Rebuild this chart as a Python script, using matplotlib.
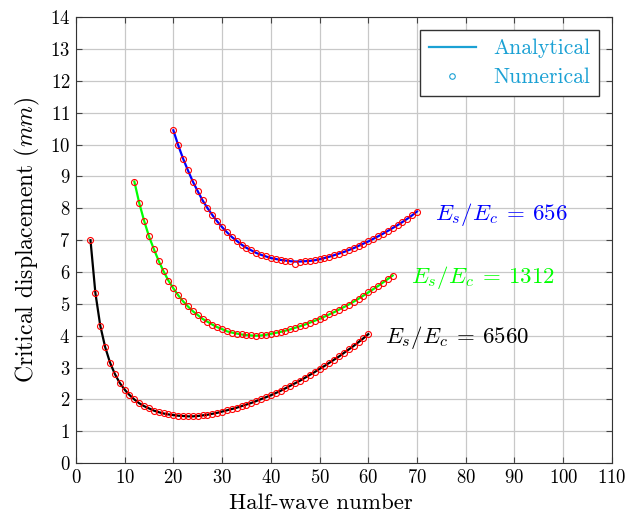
import matplotlib
matplotlib.use("Agg")
import matplotlib.pyplot as plt
from matplotlib.lines import Line2D

plt.rcParams['font.family'] = 'serif'
plt.rcParams['font.serif'] = ['cmr10', 'DejaVu Serif']
plt.rcParams['mathtext.fontset'] = 'cm'
plt.rcParams['axes.unicode_minus'] = False
plt.rcParams['axes.formatter.use_mathtext'] = True

### data ###
# E_s/E_c = 6560 (black), half-wave numbers 3..60
n_6560 = list(range(3, 61))
d_6560 = [7.00, 5.35, 4.32, 3.65, 3.16, 2.80, 2.52, 2.31, 2.14, 2.00,
          1.88, 1.79, 1.72, 1.65, 1.60, 1.56, 1.53, 1.51, 1.49, 1.48,
          1.47, 1.47, 1.48, 1.50, 1.52, 1.55, 1.58, 1.62, 1.66, 1.70,
          1.74, 1.79, 1.84, 1.89, 1.95, 2.01, 2.07, 2.13, 2.20, 2.27,
          2.35, 2.43, 2.51, 2.59, 2.68, 2.77, 2.86, 2.96, 3.05, 3.15,
          3.25, 3.35, 3.46, 3.57, 3.68, 3.80, 3.92, 4.05]

# E_s/E_c = 1312 (green), half-wave numbers 12..65
n_1312 = list(range(12, 66))
d_1312 = [8.84, 8.17, 7.61, 7.12, 6.72, 6.35, 6.02, 5.73, 5.49, 5.27,
          5.08, 4.92, 4.77, 4.65, 4.53, 4.44, 4.35, 4.27, 4.21, 4.14,
          4.10, 4.07, 4.04, 4.02, 4.01, 4.00, 4.01, 4.03, 4.06, 4.09,
          4.12, 4.16, 4.20, 4.25, 4.30, 4.35, 4.41, 4.47, 4.53, 4.60,
          4.67, 4.74, 4.82, 4.90, 4.98, 5.07, 5.16, 5.26, 5.36, 5.46,
          5.56, 5.67, 5.78, 5.89]

# E_s/E_c = 656 (blue), half-wave numbers 20..70
n_656 = list(range(20, 71))
d_656 = [10.45, 9.98, 9.56, 9.19, 8.84, 8.54, 8.25, 8.01, 7.79, 7.59,
         7.41, 7.25, 7.10, 6.98, 6.86, 6.76, 6.68, 6.60, 6.54, 6.49,
         6.44, 6.41, 6.38, 6.36, 6.34, 6.33, 6.33, 6.34, 6.35, 6.37,
         6.40, 6.44, 6.48, 6.53, 6.58, 6.63, 6.69, 6.75, 6.82, 6.89,
         6.96, 7.04, 7.12, 7.20, 7.29, 7.38, 7.47, 7.57, 7.67, 7.78,
         7.90]

# numerical results (same as analytical except one point)
num_6560 = list(d_6560)
num_1312 = list(d_1312)
num_656 = list(d_656)
num_656[n_656.index(45)] = 6.26

labels = [r'$E_s/E_c\:=\:6560$', r'$E_s/E_c\:=\:1312$', r'$E_s/E_c\:=\:656$']
label_pos = [(63.5, 3.95), (68.8, 5.83), (73.6, 7.80)]
colors = ['black', '#00ff00', '#0000ff']

fig = plt.figure(figsize=(6.27, 5.21), dpi=100)
ax = fig.add_axes([0.121, 0.111, 0.855, 0.856])

series = [(n_6560, d_6560, num_6560), (n_1312, d_1312, num_1312), (n_656, d_656, num_656)]
for (n, d, nm), c in zip(series, colors):
    ax.plot(n, d, color=c, lw=1.6, zorder=3)
    ax.plot(n, nm, 'o', mfc='none', mec='red', ms=4.3, mew=0.8, zorder=4)

for txt, (x, y), c in zip(labels, label_pos, colors):
    ax.text(x, y, txt, color=c, fontsize=16.5, va='center', ha='left')

ax.set_xlim(0, 110)
ax.set_ylim(0, 14)
ax.set_xticks(range(0, 111, 10))
ax.set_yticks(range(0, 15))
ax.grid(True, color='#c8c8c8', lw=0.9)
ax.set_axisbelow(True)
ax.tick_params(direction='in', top=True, right=True, length=4, labelsize=13.5,
               color='#444444', pad=4)
for s in ax.spines.values():
    s.set_color('#333333')

ax.set_xlabel('Half-wave number', fontsize=16.5)
ax.xaxis.set_label_coords(0.457, -0.068)
ax.set_ylabel('Critical displacement ($mm$)', fontsize=17, labelpad=6)

cyan = '#1ba1d4'
handles = [Line2D([], [], color=cyan, lw=1.6),
           Line2D([], [], ls='none', marker='o', mfc='none', mec=cyan, ms=4, mew=0.8)]
leg = ax.legend(handles, ['Analytical', 'Numerical'], loc='upper right', fontsize=15.5,
                fancybox=False, framealpha=1, edgecolor='#333333', labelcolor=cyan,
                borderaxespad=0.6, handlelength=2.2, labelspacing=0.45)
leg.get_frame().set_linewidth(1.0)

fig.savefig('out.png', dpi=100)
